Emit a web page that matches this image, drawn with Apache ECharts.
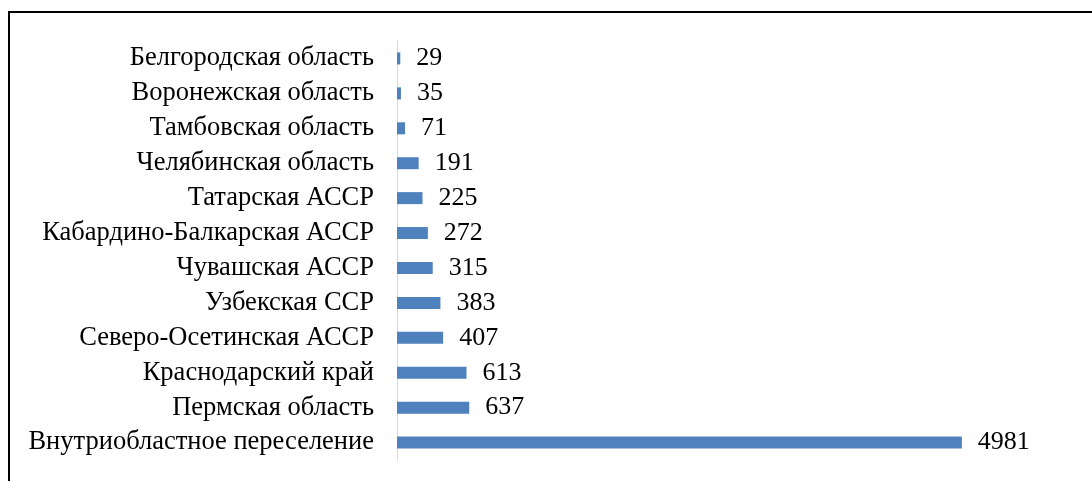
<!DOCTYPE html>
<html>
<head>
<meta charset="utf-8">
<style>
  html, body { margin: 0; padding: 0; background: #fff; }
  #chart { width: 1092px; height: 481px; }
</style>
<script src="https://cdn.jsdelivr.net/npm/echarts@6/dist/echarts.min.js"></script>
</head>
<body>
<div id="chart"></div>
<script>
const regions = [
    'Белгородская область',
    'Воронежская область',
    'Тамбовская область',
    'Челябинская область',
    'Татарская АССР',
    'Кабардино-Балкарская АССР',
    'Чувашская АССР',
    'Узбекская ССР',
    'Северо-Осетинская АССР',
    'Краснодарский край',
    'Пермская область',
    'Внутриобластное переселение'
];
const settlers = [29, 35, 71, 191, 225, 272, 315, 383, 407, 613, 637, 4981];

const serif = "'Liberation Serif', 'Times New Roman', serif";

const chart = echarts.init(document.getElementById('chart'));

chart.setOption({
    animation: false,
    grid: { left: 397, top: 41, width: 567, height: 419, containLabel: false },
    graphic: [
        {
            // frame around the chart area, cut off at right and bottom
            type: 'rect',
            shape: { x: 9, y: 12, width: 1200, height: 600 },
            style: { fill: 'none', stroke: '#000', lineWidth: 2 }
        }
    ],
    xAxis: {
        type: 'value',
        min: 0,
        max: 5000,
        show: false
    },
    yAxis: {
        type: 'category',
        data: regions,
        inverse: true,
        axisLine: { show: true, lineStyle: { color: '#d9d9d9', width: 1 } },
        axisTick: { show: false },
        axisLabel: {
            interval: 0,
            hideOverlap: false,
            margin: 23,
            color: '#000',
            fontFamily: serif,
            fontSize: 26.5
        }
    },
    series: [
        {
            type: 'bar',
            data: settlers,
            barWidth: 12,
            itemStyle: { color: '#4f81bd' },
            label: {
                show: true,
                position: 'right',
                distance: 16,
                color: '#000',
                fontFamily: serif,
                fontSize: 26
            }
        }
    ]
});
</script>
</body>
</html>
